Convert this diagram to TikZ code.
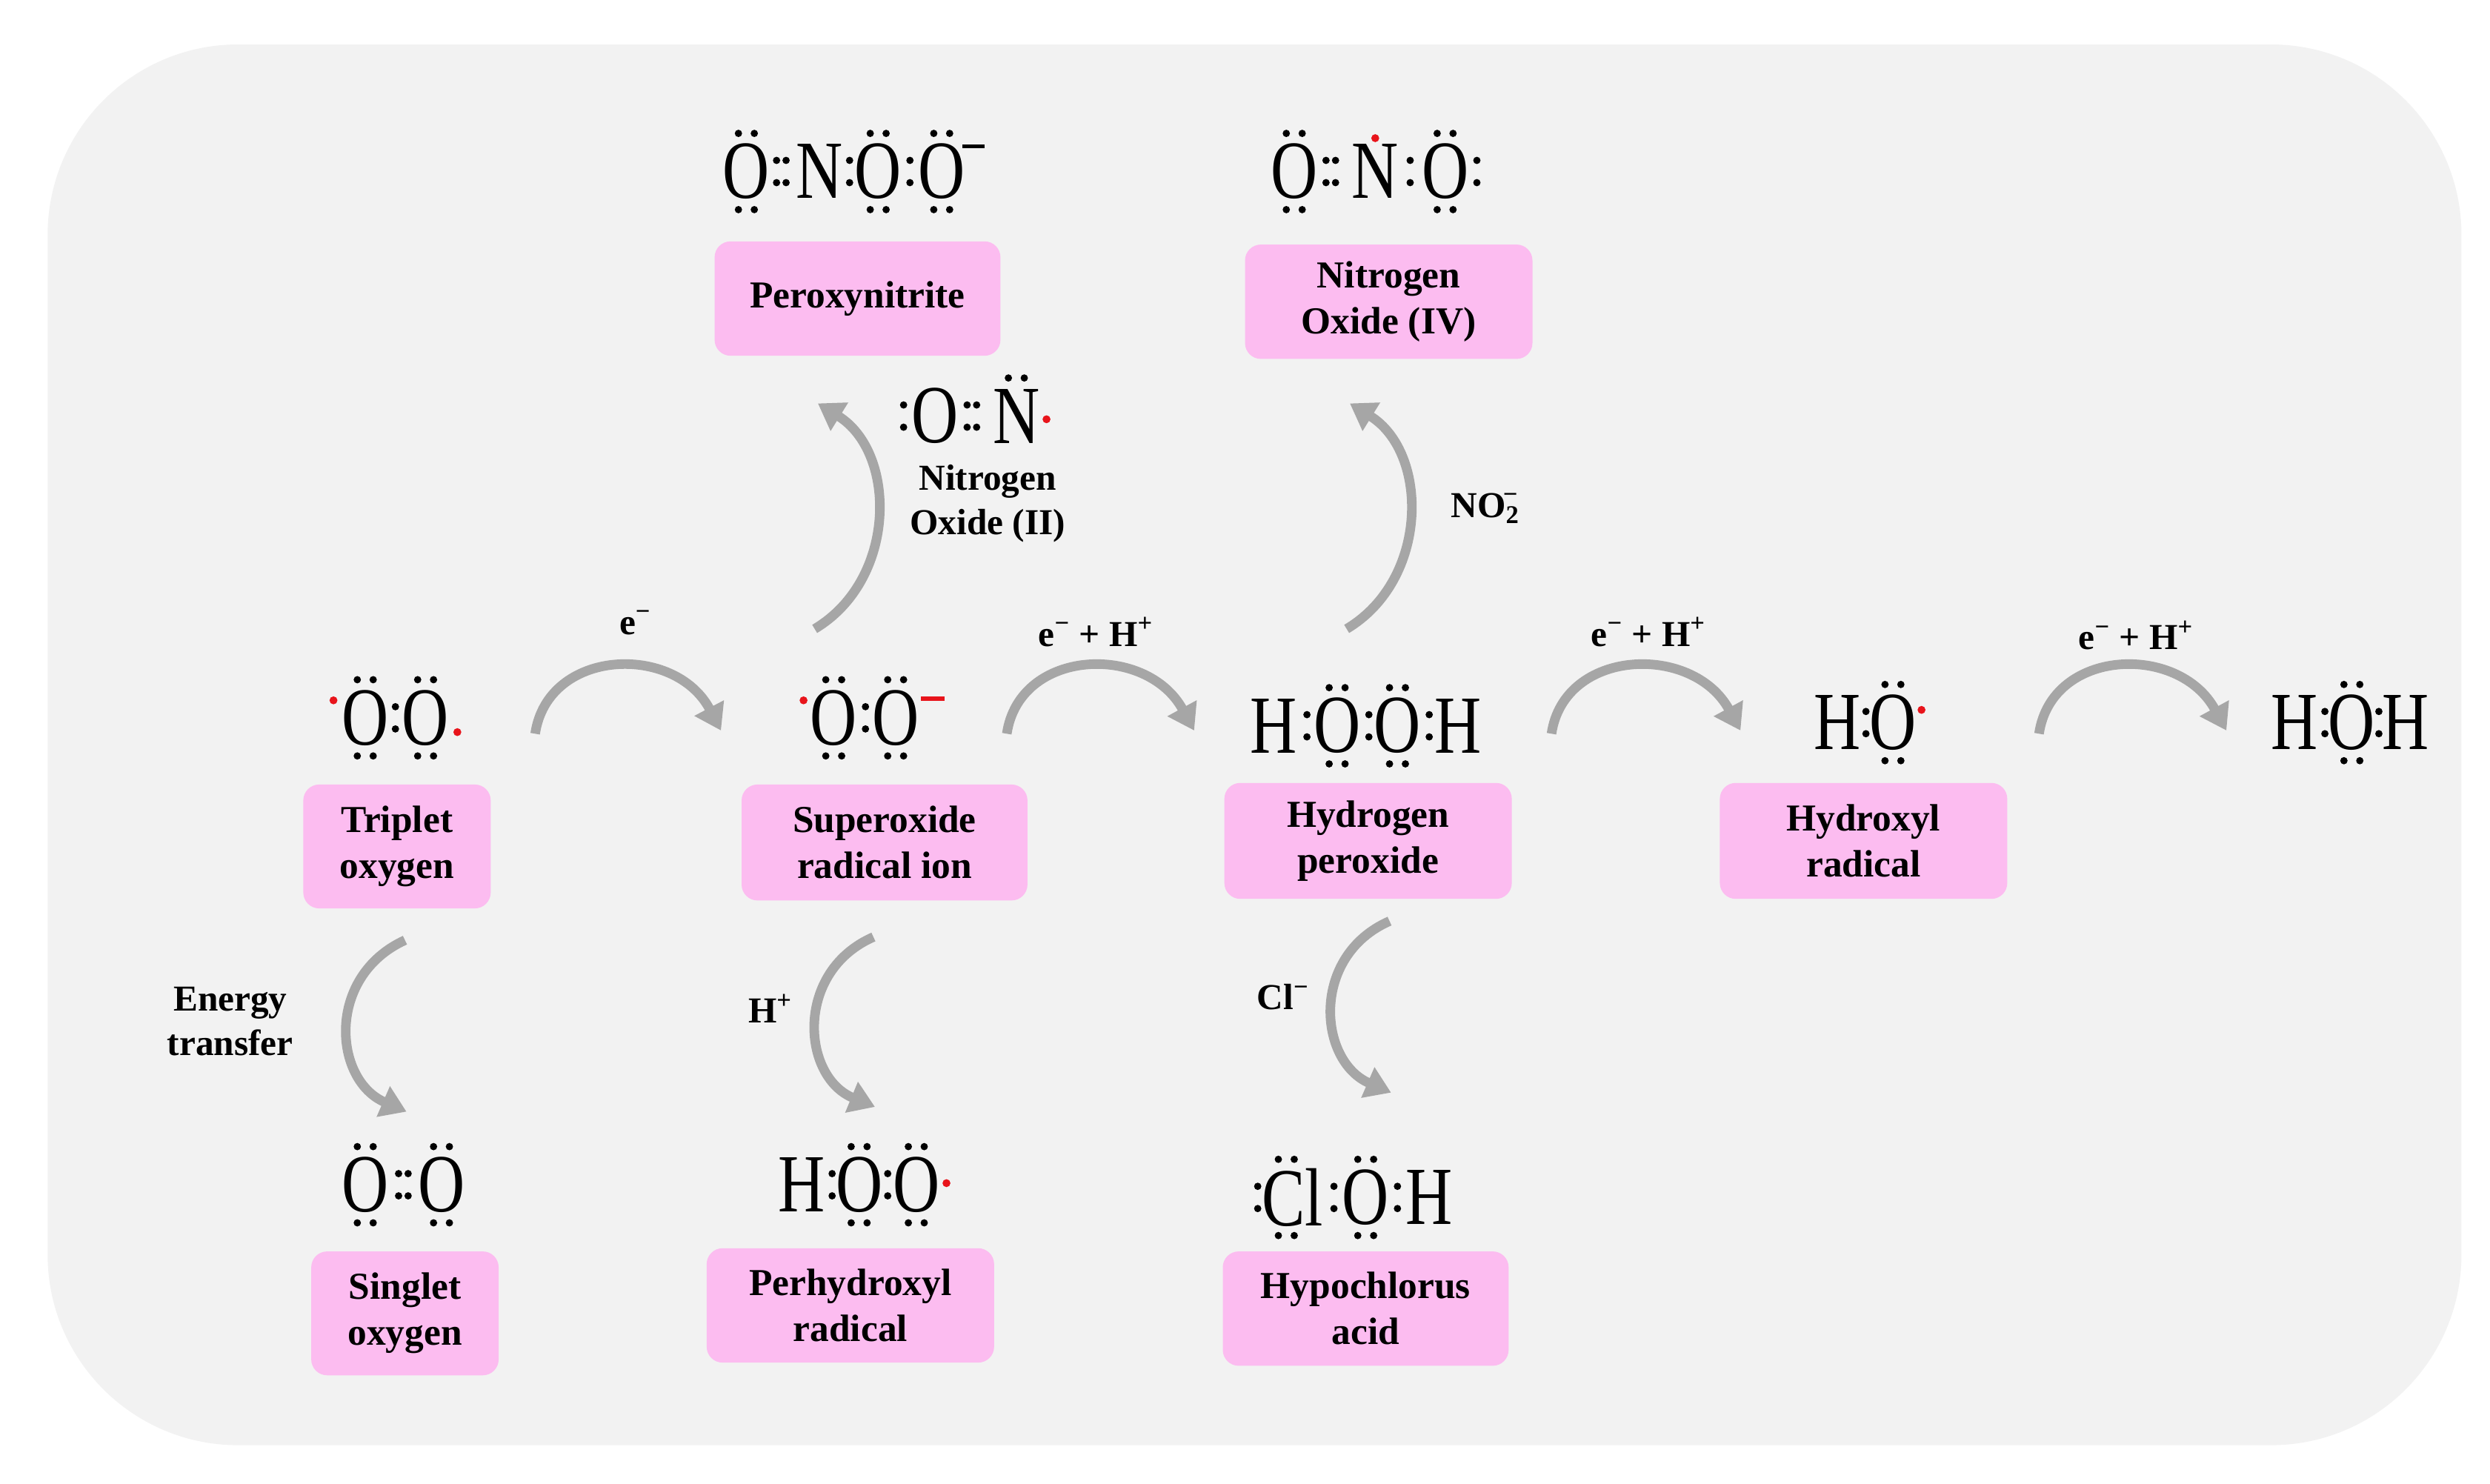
\documentclass[tikz,border=0pt]{standalone}
\usepackage{fontspec}
\setmainfont{Liberation Serif}
\usetikzlibrary{arrows.meta}
\definecolor{bg}{HTML}{F2F2F2}
\definecolor{pk}{HTML}{FCBCF0}
\definecolor{ar}{HTML}{A6A6A6}
\definecolor{rd}{HTML}{E8141B}
\newcommand\tpd[2]{\fill (#1-5,#2-24) circle (2.3) (#1+5,#2-24) circle (2.3);}
\newcommand\btd[2]{\fill (#1-5,#2+24) circle (2.3) (#1+5,#2+24) circle (2.3);}
\newcommand\sbd[2]{\fill (#1,#2-7) circle (2.3) (#1,#2+7) circle (2.3);}
\newcommand\dbd[2]{\fill (#1-3,#2-7) circle (2.3) (#1-3,#2+7) circle (2.3) (#1+3,#2-7) circle (2.3) (#1+3,#2+7) circle (2.3);}
\newcommand\rdt[2]{\fill[rd] (#1,#2) circle (2.5);}
\newcommand\atm[3]{\node[atomf] at (#1,#2) {#3};}
\begin{document}
\begin{tikzpicture}[x=1pt,y=-1pt,
  atomf/.style={inner sep=0,font=\fontsize{40}{40}\selectfont,yscale=1.3,xscale=1.02},
  lbl/.style={fill=pk,rounded corners=10pt,align=center,font=\fontsize{24}{29}\selectfont\bfseries,inner sep=0},
  txt/.style={align=center,font=\fontsize{23}{28}\selectfont\bfseries},
  arr/.style={draw=ar,line width=6pt,-{Triangle[width=20pt,length=16pt]}}]
\useasboundingbox (0,0) rectangle (1568,934);
\fill[white] (0,0) rectangle (1568,934);
\fill[bg,rounded corners=120pt] (30,28) rectangle (1550,910);
% boxes
\newcommand\bx[6]{\node[lbl,minimum width=#4-#2,minimum height=#5-#3] (#1) at ({(#2+#4)/2},{(#3+#5)/2}) {#6};}
\bx{pn}{450}{152}{630}{224}{Peroxynitrite}
\bx{no4}{784}{154}{965}{226}{Nitrogen\\Oxide (IV)}
\bx{tox}{191}{494}{309}{572}{Triplet\\oxygen}
\bx{sup}{467}{494}{647}{567}{Superoxide\\radical ion}
\bx{hp}{771}{493}{952}{566}{Hydrogen\\peroxide}
\bx{hyd}{1083}{493}{1264}{566}{Hydroxyl\\radical}
\bx{sox}{196}{788}{314}{866}{Singlet\\oxygen}
\bx{phr}{445}{786}{626}{858}{Perhydroxyl\\radical}
\bx{hca}{770}{788}{950}{860}{Hypochlorus\\acid}
% ONOO-
\atm{470}{108}{O}\atm{516}{108}{N}\atm{553}{108}{O}\atm{593}{108}{O}
\tpd{470}{108}\btd{470}{108}\tpd{553}{108}\btd{553}{108}\tpd{593}{108}\btd{593}{108}
\dbd{492}{108}\sbd{535}{108}\sbd{573}{108}
\draw[line width=2.5pt] (606,92) -- (620,92);
% ONO
\atm{815}{108}{O}\atm{866}{108}{N}\atm{910}{108}{O}
\tpd{815}{108}\btd{815}{108}\tpd{910}{108}\btd{910}{108}
\dbd{838}{108}\sbd{888}{108}\sbd{930}{108}\rdt{866}{87}
% :O::N.
\atm{589}{262}{O}\atm{640}{262}{N}
\sbd{569}{262}\dbd{612}{262}\tpd{640}{262}\rdt{659}{264}
% triplet
\atm{230}{452}{O}\atm{268}{452}{O}\sbd{249}{452}
\tpd{230}{452}\btd{230}{452}\tpd{268}{452}\btd{268}{452}
\rdt{210}{441}\rdt{288}{461}
% superoxide
\atm{525}{452}{O}\atm{564}{452}{O}\sbd{545}{452}
\tpd{525}{452}\btd{525}{452}\tpd{564}{452}\btd{564}{452}
\rdt{506}{441}\draw[rd,line width=2.5pt] (580,440) -- (595,440);
% HOOH
\atm{802}{457}{H}\atm{842}{457}{O}\atm{880}{457}{O}\atm{918}{457}{H}
\sbd{823}{457}\sbd{862}{457}\sbd{900}{457}
\tpd{842}{457}\btd{842}{457}\tpd{880}{457}\btd{880}{457}
% HO.
\atm{1157}{455}{H}\atm{1192}{455}{O}\sbd{1175}{455}
\tpd{1192}{455}\btd{1192}{455}\rdt{1210}{447}
% HOH
\atm{1445}{455}{H}\atm{1481}{455}{O}\atm{1515}{455}{H}
\sbd{1464}{455}\sbd{1498}{455}\tpd{1481}{455}\btd{1481}{455}
% singlet
\atm{230}{746}{O}\atm{278}{746}{O}\dbd{254}{746}
\tpd{230}{746}\btd{230}{746}\tpd{278}{746}\btd{278}{746}
% HOO.
\atm{505}{746}{H}\atm{541}{746}{O}\atm{577}{746}{O}
\sbd{524}{746}\sbd{559}{746}
\tpd{541}{746}\btd{541}{746}\tpd{577}{746}\btd{577}{746}\rdt{596}{745}
% ClOH
\atm{814}{754}{Cl}\atm{860}{754}{O}\atm{900}{754}{H}
\sbd{792}{754}\sbd{840}{754}\sbd{880}{754}
\tpd{810}{754}\btd{810}{754}\tpd{860}{754}\btd{860}{754}
% arrows
\coordinate (a1) at (337,462); \coordinate (b1) at (454,460);
\draw[arr] (a1) .. controls (345,408) and (425,405) .. (b1);
\coordinate (a2) at (634,462); \coordinate (b2) at (752,460);
\draw[arr] (a2) .. controls (642,408) and (722,405) .. (b2);
\coordinate (a3) at (977,462); \coordinate (b3) at (1096,460);
\draw[arr] (a3) .. controls (985,408) and (1066,405) .. (b3);
\coordinate (a4) at (1284,462); \coordinate (b4) at (1402,460);
\draw[arr] (a4) .. controls (1292,408) and (1372,405) .. (b4);
\coordinate (c1) at (513,396); \coordinate (d1) at (515,254);
\draw[arr] (c1) .. controls (565,365) and (565,285) .. (d1);
\coordinate (c2) at (848,396); \coordinate (d2) at (850,254);
\draw[arr] (c2) .. controls (900,365) and (900,285) .. (d2);
\coordinate (e1) at (255,592); \coordinate (f1) at (256,700);
\draw[arr] (e1) .. controls (205,615) and (210,680) .. (f1);
\coordinate (e2) at (550,590); \coordinate (f2) at (551,697);
\draw[arr] (e2) .. controls (500,612) and (505,678) .. (f2);
\coordinate (e3) at (875,580); \coordinate (f3) at (876,688);
\draw[arr] (e3) .. controls (825,602) and (830,668) .. (f3);
% labels
\node[txt] (l1) at (400,392) {e\textsuperscript{−}};
\node[txt] (l2) at (690,398) {e\textsuperscript{−} + H\textsuperscript{+}};
\node[txt] (l3) at (1038,398) {e\textsuperscript{−} + H\textsuperscript{+}};
\node[txt] (l4) at (1345,400) {e\textsuperscript{−} + H\textsuperscript{+}};
\node[txt] (l5) at (622,317) {Nitrogen\\Oxide (II)};
\node[txt] (l6) at (935,320) {NO\textsubscript{2}\kern-0.45em\textsuperscript{−}};
\node[txt] (l7) at (145,643) {Energy\\transfer};
\node[txt] (l8) at (485,635) {H\textsuperscript{+}};
\node[txt] (l9) at (808,628) {Cl\textsuperscript{−}};
\end{tikzpicture}
\end{document}
